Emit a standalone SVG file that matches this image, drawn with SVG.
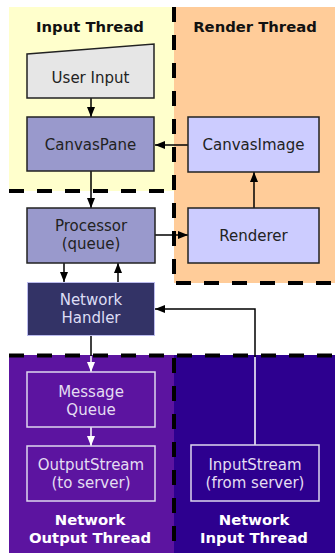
<svg xmlns="http://www.w3.org/2000/svg" width="335" height="553" viewBox="0 0 335 553">
<style>
text{font-family:"DejaVu Sans",Verdana,sans-serif;font-size:15px;text-anchor:middle;fill:#222}
.t{font-weight:bold;font-size:14.8px;fill:#111}
.tw{font-weight:bold;font-size:14.8px;fill:#fff}
.dash{stroke:#000;stroke-width:4;stroke-dasharray:15 13;fill:none}
.box{stroke:#222;stroke-width:1.5}
.lt{fill:#e4ddf2}
.wbox{stroke:#ddd6ee;stroke-width:1.5}
.c{stroke:#000;stroke-width:1.5;fill:none}
.ca{marker-end:url(#ab)}
.cw{stroke:#fff;stroke-width:1.5;fill:none}
</style>
<defs>
<marker id="ab" markerUnits="userSpaceOnUse" markerWidth="10" markerHeight="8" refX="10" refY="4" orient="auto"><path d="M0,0L10,4L0,8z" fill="#000"/></marker>
<marker id="aw" markerUnits="userSpaceOnUse" markerWidth="10" markerHeight="8" refX="10" refY="4" orient="auto"><path d="M0,0L10,4L0,8z" fill="#fff"/></marker>
</defs>
<g id="regions">
<rect x="9" y="7" width="165" height="184" fill="#ffffcc"/>
<rect x="174" y="7" width="161" height="276" fill="#ffcc99"/>
<rect x="9" y="355" width="165" height="198" fill="#5c14a0"/>
<rect x="174" y="355" width="161" height="198" fill="#2d008f"/>
<path class="dash" d="M9,191H172"/>
<path class="dash" d="M174,7V283"/>
<path class="dash" d="M176,283H335"/>
<path class="dash" d="M9,355.5H335"/>
<path class="dash" d="M174,358V553"/>
<text class="t" x="90" y="32">Input Thread</text>
<text class="t" x="255" y="32">Render Thread</text>
<text class="tw" x="90" y="525">Network</text>
<text class="tw" x="90" y="543">Output Thread</text>
<text class="tw" x="254" y="525">Network</text>
<text class="tw" x="254" y="543">Input Thread</text>
</g>
<g id="connectors">
<path class="c ca" d="M91,98V117"/>
<path class="c ca" d="M188,145H155"/>
<path class="c ca" d="M254,208V172"/>
<path class="c ca" d="M91,171V208"/>
<path class="c ca" d="M155,235H188"/>
<path class="c ca" d="M64,263V282"/>
<path class="c ca" d="M118,282V263"/>
<path class="cw" d="M255,445V357"/>
<path class="c ca" d="M255,357V309H155"/>
<path class="c" d="M91,336V356"/>
<path class="cw" d="M91,356V372" marker-end="url(#aw)"/>
<path class="cw" d="M91,427V446" marker-end="url(#aw)"/>
</g>
<g id="user-input">
<path class="box" d="M27,54L154,44V98H27z" fill="#e6e6e6"/>
<text x="90.5" y="83">User Input</text>
</g>
<g id="canvas-pane">
<rect class="box" x="27" y="117" width="127" height="54" fill="#9999cc"/>
<text x="90.5" y="150">CanvasPane</text>
</g>
<g id="canvas-image">
<rect class="box" x="188" y="117" width="131" height="55" fill="#ccccff"/>
<text x="253.5" y="150">CanvasImage</text>
</g>
<g id="renderer">
<rect class="box" x="188" y="208" width="131" height="55" fill="#ccccff"/>
<text x="253.5" y="241">Renderer</text>
</g>
<g id="processor">
<rect class="box" x="27" y="208" width="128" height="55" fill="#9999cc"/>
<text x="91" y="231">Processor</text>
<text x="91" y="249">(queue)</text>
</g>
<g id="network-handler">
<rect x="27.5" y="282.5" width="127" height="53" fill="#333366" stroke="#bbbbee" stroke-width="1"/>
<text x="91" y="305" style="fill:#ddddf5">Network</text>
<text x="91" y="323" style="fill:#ddddf5">Handler</text>
</g>
<g id="message-queue">
<rect class="wbox" x="27" y="372" width="128" height="55" fill="none"/>
<text class="lt" x="91" y="397">Message</text>
<text class="lt" x="91" y="415">Queue</text>
</g>
<g id="output-stream">
<rect class="wbox" x="27" y="446" width="128" height="55" fill="none"/>
<text class="lt" x="91" y="470">OutputStream</text>
<text class="lt" x="91" y="488">(to server)</text>
</g>
<g id="input-stream">
<rect class="wbox" x="191" y="445" width="128" height="56" fill="none"/>
<text class="lt" x="255" y="469.5">InputStream</text>
<text class="lt" x="255" y="487.5">(from server)</text>
</g>
</svg>
